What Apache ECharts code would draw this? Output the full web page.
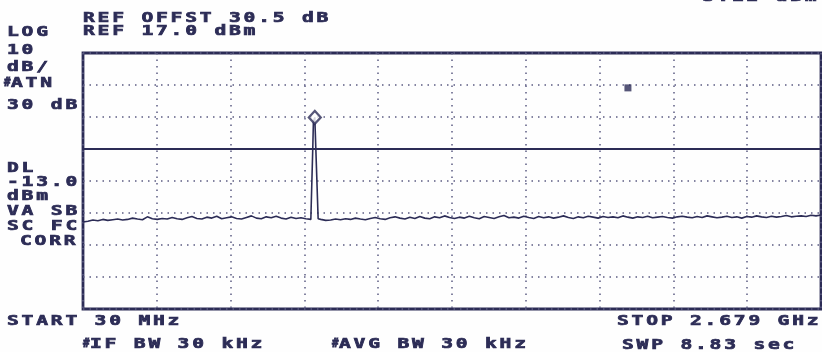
<!DOCTYPE html>
<html>
<head>
<meta charset="utf-8">
<script src="https://cdn.jsdelivr.net/npm/echarts@6/dist/echarts.min.js"></script>
<style>
  html, body { margin: 0; padding: 0; background: #fefefe; }
  #chart { width: 822px; height: 352px; }
</style>
</head>
<body>
<div id="chart"></div>
<script>
// Sweep settings
const START_MHZ = 30;
const STOP_MHZ = 2679;
const REF_DBM = 17;
const DB_PER_DIV = 10;
const DIVS_X = 10;
const DIVS_Y = 8;
const DISPLAY_LINE_DBM = -13;

// Trace levels (dBm), evenly spaced across the sweep
const sweepLevels = [
  -35.8,-35.6,-35.2,-35.4,-35.0,-35.3,-35.1,-34.9,-35.2,-35.0,
  -34.6,-34.9,-35.1,-34.2,-34.8,-35.0,-34.7,-34.9,-34.4,-34.8,
  -35.0,-34.5,-34.1,-34.7,-34.9,-34.3,-34.6,-34.0,-34.8,-34.5,
  -34.2,-34.7,-34.9,-34.4,-33.9,-34.6,-34.8,-34.2,-34.5,-34.0,
  -34.6,-34.9,-34.3,-34.7,-34.5,-34.8,-35.0,
  -34.6,
  -35.0,-35.3,-35.2,-34.9,-35.1,-34.8,-35.0,-34.6,-34.9,-35.1,
  -34.7,-34.4,-34.8,-35.0,-34.5,-34.2,-34.6,-34.9,-34.3,-34.7,
  -34.1,-34.6,-34.8,-34.2,-34.5,-33.9,-34.4,-34.7,-34.3,-34.6,
  -34.0,-34.5,-34.8,-34.1,-34.4,-34.7,-34.2,-33.8,-34.5,-34.3,
  -34.6,-34.0,-34.4,-34.7,-34.1,-34.5,-34.2,-34.6,-34.3,-33.9,
  -34.4,-34.7,-34.2,-34.5,-34.0,-34.3,-34.6,-34.1,-34.4,-34.2,
  -34.5,-33.9,-34.3,-34.6,-34.2,-34.4,-34.0,-34.5,-34.3,-34.1,
  -34.4,-34.6,-34.2,-34.0,-34.3,-34.5,-34.1,-34.4,-33.9,-34.2,
  -34.5,-34.3,-34.0,-34.4,-34.2,-34.6,-34.1,-34.3,-33.9,-34.2,
  -34.4,-34.0,-34.3,-34.1,-33.8,-34.2,-34.0,-33.9,-34.1,-33.7,
  -33.9,-33.6
];

// Carrier response [MHz, dBm]
const carrierTrace = [
  [853, -34.9], [855, -12.0], [857, -4.5], [862, -3.12],
  [866, -3.5], [868, -18.9], [872, -19.2], [874, -34.8]
];

// Markers [MHz, dBm]
const peakMarker = [[862, -3.12]];
const auxMarker = [[1986, 6.1]];

// Annotation lines: [text, x, y]
const annotations = [
  ['-3.12 dBm', 688, -3],
  ['REF OFFST 30.5 dB', 83, 18],
  ['REF 17.0 dBm', 83, 31],
  ['LOG', 7, 32],
  ['10', 7, 50],
  ['dB/', 7, 67],
  ['#ATN', 4, 83],
  ['30 dB', 7, 105],
  ['DL', 7, 168],
  ['-13.0', 7, 182],
  ['dBm', 7, 196],
  ['VA SB', 7, 211],
  ['SC FC', 7, 226],
  ['CORR', 20, 241],
  ['START 30 MHz', 7, 321],
  ['#IF BW 30 kHz', 83, 344],
  ['#AVG BW 30 kHz', 332, 344],
  ['STOP 2.679 GHz', 617, 321],
  ['SWP 8.83 sec', 622, 345]
];

const INK = '#2c2c56';
const GRID_INK = '#5c5c82';
const PITCH = 14.6;

// Merge the evenly spaced sweep with the carrier points
const step = (STOP_MHZ - START_MHZ) / (sweepLevels.length - 1);
const cLo = carrierTrace[0][0];
const cHi = carrierTrace[carrierTrace.length - 1][0];
const trace = sweepLevels
  .map((v, i) => [START_MHZ + i * step, v])
  .filter(p => p[0] < cLo || p[0] > cHi)
  .concat(carrierTrace)
  .sort((a, b) => a[0] - b[0]);

// Character-cell text, fixed pitch like the instrument's display font
function cellText(str, x0, y) {
  const els = [];
  let x = x0;
  for (const ch of str) {
    if (ch === '#') {
      els.push({ type: 'text', x: x, y: y, scaleX: 0.9, z: 10,
        style: { text: ch, font: 'bold 12px "DejaVu Sans Mono"', fill: INK,
                 stroke: INK, lineWidth: 0.8, verticalAlign: 'middle' } });
      x += 7;
      continue;
    }
    if (ch !== ' ') {
      els.push({ type: 'text', x: x, y: y, scaleX: 1.4, z: 10,
        style: { text: ch, font: 'bold 14px "DejaVu Sans Mono"', fill: INK,
                 stroke: INK, lineWidth: 0.7, verticalAlign: 'middle' } });
    }
    x += PITCH;
  }
  return els;
}

const graphics = [];
annotations.forEach(a => graphics.push(...cellText(a[0], a[1], a[2])));

const gridLine = { show: true, lineStyle: { color: GRID_INK, width: 1.5, type: [1.5, 5] } };

const chart = echarts.init(document.getElementById('chart'), null, { renderer: 'canvas' });
chart.setOption({
  backgroundColor: '#fefefe',
  animation: false,
  grid: {
    left: 83, right: 1, top: 53, bottom: 43,
    show: true, borderColor: INK, borderWidth: 2.8, backgroundColor: 'transparent'
  },
  xAxis: [
    { type: 'value', min: START_MHZ, max: STOP_MHZ, show: false },
    { type: 'value', min: 0, max: DIVS_X, interval: 1,
      axisLine: { show: false }, axisTick: { show: false }, axisLabel: { show: false },
      splitLine: gridLine }
  ],
  yAxis: [
    { type: 'value', min: REF_DBM - DB_PER_DIV * DIVS_Y, max: REF_DBM, show: false },
    { type: 'value', min: 0, max: DIVS_Y, interval: 1,
      axisLine: { show: false }, axisTick: { show: false }, axisLabel: { show: false },
      splitLine: gridLine }
  ],
  series: [
    {
      type: 'line', xAxisIndex: 0, yAxisIndex: 0,
      data: trace, showSymbol: false, smooth: false,
      lineStyle: { color: INK, width: 1.6 },
      markLine: {
        silent: true, symbol: 'none', label: { show: false },
        lineStyle: { color: INK, width: 2.2, type: 'solid' },
        data: [{ yAxis: DISPLAY_LINE_DBM }]
      },
      z: 3
    },
    {
      type: 'scatter', xAxisIndex: 0, yAxisIndex: 0,
      data: peakMarker, symbol: 'diamond', symbolSize: [12, 13],
      itemStyle: { color: '#fefefe', borderColor: INK, borderWidth: 2.2 },
      z: 5
    },
    {
      type: 'scatter', xAxisIndex: 0, yAxisIndex: 0,
      data: auxMarker, symbol: 'rect', symbolSize: 7,
      itemStyle: { color: INK },
      z: 5
    }
  ],
  graphic: graphics
});
</script>
</body>
</html>
